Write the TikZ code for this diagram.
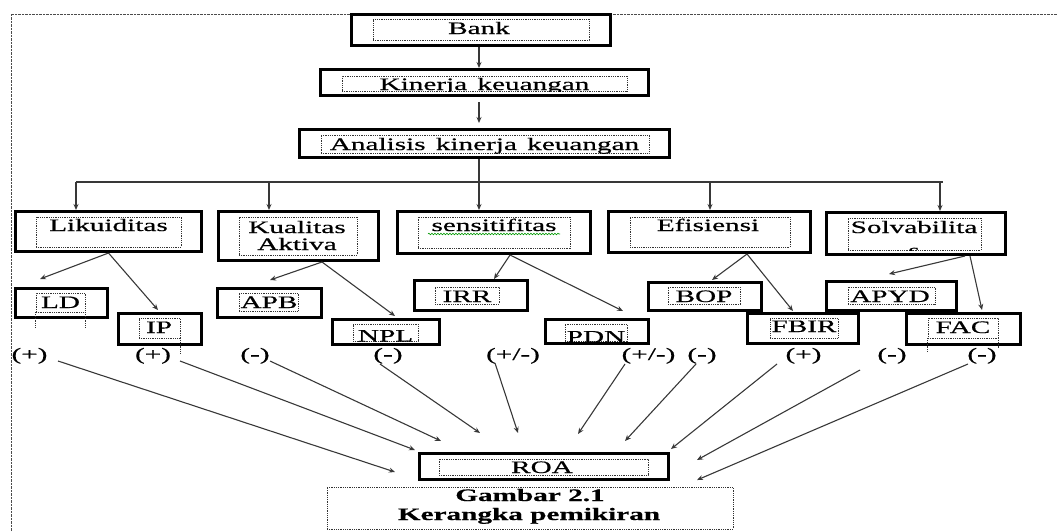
\documentclass[tikz,border=0pt]{standalone}
\usepackage{fontspec}
\setmainfont{Liberation Serif}[FakeStretch=1.67,FakeBold=0.6]
\usetikzlibrary{arrows.meta,decorations.pathmorphing}
\tikzset{
  obox/.style={draw=black, line width=2.8pt, fill=white, inner sep=0pt, rectangle},
  vedge/.style={draw=black, line width=1.4pt},
  ibox/.style={draw=black!80, line width=0.7pt, dash pattern=on 0.9pt off 0.9pt, inner sep=0pt, rectangle},
  leg/.style={draw=black!80, line width=0.7pt, dash pattern=on 0.9pt off 0.9pt},
  txt/.style={inner sep=0pt, anchor=base, font=\fontsize{17.5}{20}\selectfont},
  captxt/.style={inner sep=0pt, anchor=base, font=\fontsize{17.5}{20}\selectfont\bfseries},
  conn/.style={draw=black!78, line width=1.1pt},
  arr/.style={conn, -{Stealth[length=6pt,width=5pt]}},
  frame/.style={draw=black!70, line width=0.8pt, dash pattern=on 0.7pt off 0.7pt},
  squig/.style={draw=green!60!black, line width=0.6pt, decorate, decoration={snake, amplitude=0.8pt, segment length=3pt}}
}
\newcommand\obx[5]{\node[obox, minimum width={(#4-#2-2.8)*1pt}, minimum height={(#5-#3-2.8)*1pt}] (#1) at ({(#2+#4)/2},{(#3+#5)/2}) {};
  \draw[vedge] ([xshift=2.1pt,yshift=-1.4pt]#1.north west) -- ([xshift=2.1pt,yshift=1.4pt]#1.south west);
  \draw[vedge] ([xshift=-2.1pt,yshift=-1.4pt]#1.north east) -- ([xshift=-2.1pt,yshift=1.4pt]#1.south east);}
\newcommand\ibx[5]{\node[ibox, minimum width={(#4-#2)*1pt}, minimum height={(#5-#3)*1pt}] (#1) at ({(#2+#4)/2},{(#3+#5)/2}) {};}
\begin{document}
\begin{tikzpicture}[x=1pt,y=-1pt]
\useasboundingbox (0,0) rectangle (1057,531);
% outer dotted frame
\draw[frame] (11,531) -- (11,14) -- (1057,14);

% top chain
\obx{bank}{350}{13}{612}{47} \ibx{bank-i}{373}{19}{589}{40}
\obx{kin}{319}{68}{650}{97} \ibx{kin-i}{342}{76}{627}{91}
\obx{ana}{298}{128}{671}{159} \ibx{ana-i}{321}{135}{649}{153}

% level 2
\obx{lik}{14}{210}{203}{253} \ibx{lik-i}{36}{217}{181}{247}
\obx{kua}{217}{210}{380}{262} \ibx{kua-i}{239}{217}{357}{255}
\obx{sen}{396}{210}{592}{255} \ibx{sen-i}{418}{217}{570}{248}
\obx{efi}{607}{210}{812}{254} \ibx{efi-i}{630}{217}{790}{247}
\obx{sol}{825}{211}{1007}{256} \ibx{sol-i}{848}{218}{981}{250}

% level 3
\obx{ld}{14}{287}{109}{319} \ibx{ld-i}{36}{293}{85}{312}
\obx{ip}{117}{312}{203}{346} \ibx{ip-i}{139}{318}{180}{338}
\obx{apb}{216}{287}{323}{319} \ibx{apb-i}{239}{293}{298}{311}
\obx{npl}{331}{318}{441}{346} \ibx{npl-i}{353}{324}{418}{341}
\obx{irr}{413}{279}{529}{312} \ibx{irr-i}{435}{287}{499}{304}
\obx{pdn}{544}{318}{650}{345} \ibx{pdn-i}{565}{324}{627}{341}
\obx{bop}{647}{281}{763}{312} \ibx{bop-i}{668}{287}{740}{304}
\obx{fbir}{746}{312}{860}{345} \ibx{fbir-i}{770}{318}{838}{338}
\obx{apyd}{825}{280}{958}{312} \ibx{apyd-i}{848}{287}{935}{304}
\obx{fac}{905}{312}{1022}{346} \ibx{fac-i}{928}{318}{998}{338}

% ROA and caption
\obx{roa}{418}{452}{670}{481} \ibx{roa-i}{439}{459}{648}{475}
\ibx{cap}{327}{487}{733}{529}

% dotted legs of text boxes
\draw[leg] (ld-i.south west) -- ++(0,16);
\draw[leg] (ld-i.south east) -- ++(0,16);
\draw[leg] (ip-i.south east) -- ++(0,15);
\draw[leg] (fac-i.south west) -- ++(0,14);
\draw[leg] (fac-i.south east) -- ++(0,10);

% texts
\node[txt] (bank-t) at (479,34) {Bank};
\begin{scope}
  \clip (kin-i.south west) rectangle (kin-i.north east);
  \node[txt] (kin-t) at (484.5,90) {Kinerja\, keuangan};
\end{scope}
\node[txt] (ana-t) at (484.5,150) {Analisis\, kinerja\, keuangan};
\node[txt] (lik-t) at (108.5,231) {Likuiditas};
\node[txt] (kua-t1) at (297,233) {Kualitas};
\node[txt] (kua-t2) at (297,250) {Aktiva};
\node[txt] (sen-t) at (494,231) {sensitifitas};
\draw[squig] (428,234) -- (560,234);
\node[txt] (efi-t) at (708,231) {Efisiensi};
\node[txt] (sol-t) at (914,233) {Solvabilita};
\begin{scope}
  \clip (sol-i.south west) rectangle (sol-i.north east);
  \node[txt] (sol-t2) at (914,256) {s};
\end{scope}
\node[txt] (ld-t) at (60.5,308) {LD};
\node[txt] (ip-t) at (159,333) {IP};
\node[txt] (apb-t) at (269,308) {APB};
\begin{scope}
  \clip (npl-i.south west) rectangle (npl-i.north east);
  \node[txt] (npl-t) at (385.5,341.5) {NPL};
\end{scope}
\node[txt] (irr-t) at (467,302) {IRR};
\begin{scope}
  \clip (pdn-i.south west) rectangle (pdn-i.north east);
  \node[txt] (pdn-t) at (596,342.5) {PDN};
\end{scope}
\node[txt] (bop-t) at (704,302) {BOP};
\node[txt] (fbir-t) at (804,332) {FBIR};
\node[txt] (apyd-t) at (890,302) {APYD};
\node[txt] (fac-t) at (963,333) {FAC};
\node[txt] (roa-t) at (542,473) {ROA};
\node[captxt] (cap-t1) at (530,501) {Gambar 2.1};
\node[captxt] (cap-t2) at (529,520) {Kerangka pemikiran};

% sign labels
\node[txt] (s1) at (29.5,360) {(+)};
\node[txt] (s2) at (153,360) {(+)};
\node[txt] (s3) at (255,360) {(-)};
\node[txt] (s4) at (388,360) {(-)};
\node[txt] (s5) at (513,360) {(+/-)};
\node[txt] (s6) at (648.5,360) {(+/-)};
\node[txt] (s7) at (702,360) {(-)};
\node[txt] (s8) at (803.5,360) {(+)};
\node[txt] (s9) at (892,360) {(-)};
\node[txt] (s10) at (982,360) {(-)};

% spine and bus
\coordinate (spine) at (479,0);
\draw[arr] (bank.south -| spine) -- (kin.north -| spine);
\draw[arr, shorten <=5pt, shorten >=5pt] (kin.south -| spine) -- (ana.north -| spine);
\draw[arr] (ana.south -| spine) -- (sen.north -| spine);
\coordinate (bus1) at (76,182);
\coordinate (bus2) at (269,182);
\coordinate (bus4) at (710,182);
\coordinate (bus5) at (940,182);
\coordinate (busR) at (943,182);
\draw[conn] (bus1) -- (busR);
\draw[arr] (bus1) -- (bus1 |- lik.north);
\draw[arr] (bus2) -- (bus2 |- kua.north);
\draw[arr] (bus4) -- (bus4 |- efi.north);
\draw[arr] (bus5) -- (bus5 |- sol.north);

% level 2 -> level 3
\coordinate (ld-e) at (40,279);
\coordinate (ip-e) at (158,310);
\coordinate (apb-e) at (270,280);
\coordinate (npl-e) at (395,316);
\coordinate (irr-e) at (494,279);
\coordinate (pdn-e) at (623,311);
\coordinate (bop-e) at (712,280);
\coordinate (fbir-e) at (793,311);
\coordinate (apyd-e) at (889,274);
\coordinate (fac-e) at (982,310);
\draw[arr] (lik.south) -- (ld-e);
\draw[arr] (lik.south) -- (ip-e);
\draw[arr] ([xshift=23.5pt]kua.south) -- (apb-e);
\draw[arr] ([xshift=23.5pt]kua.south) -- (npl-e);
\draw[arr] ([xshift=16pt]sen.south) -- (irr-e);
\draw[arr] ([xshift=16pt]sen.south) -- (pdn-e);
\draw[arr] ([xshift=37.5pt]efi.south) -- (bop-e);
\draw[arr] ([xshift=37.5pt]efi.south) -- (fbir-e);
\draw[arr] ([xshift=49pt]sol.south) -- (apyd-e);
\draw[arr] ([xshift=54pt]sol.south) -- (fac-e);

% signs -> ROA
\coordinate (r1s) at (58,361);   \coordinate (r1e) at (395,472);
\coordinate (r2s) at (180,361);  \coordinate (r2e) at (415,450);
\coordinate (r3s) at (270,361);  \coordinate (r3e) at (441,441);
\coordinate (r4s) at (380,364);  \coordinate (r4e) at (480,433);
\coordinate (r5s) at (495,363);  \coordinate (r5e) at (518,433);
\coordinate (r6s) at (625,364);  \coordinate (r6e) at (578,434);
\coordinate (r7s) at (696,364);  \coordinate (r7e) at (625,441);
\coordinate (r8s) at (777,364);  \coordinate (r8e) at (671,449);
\coordinate (r9s) at (860,370);  \coordinate (r9e) at (697,460);
\coordinate (r10s) at (968,364); \coordinate (r10e) at (697,480);
\foreach \i in {1,...,10} { \draw[arr] (r\i s) -- (r\i e); }
\end{tikzpicture}
\end{document}
